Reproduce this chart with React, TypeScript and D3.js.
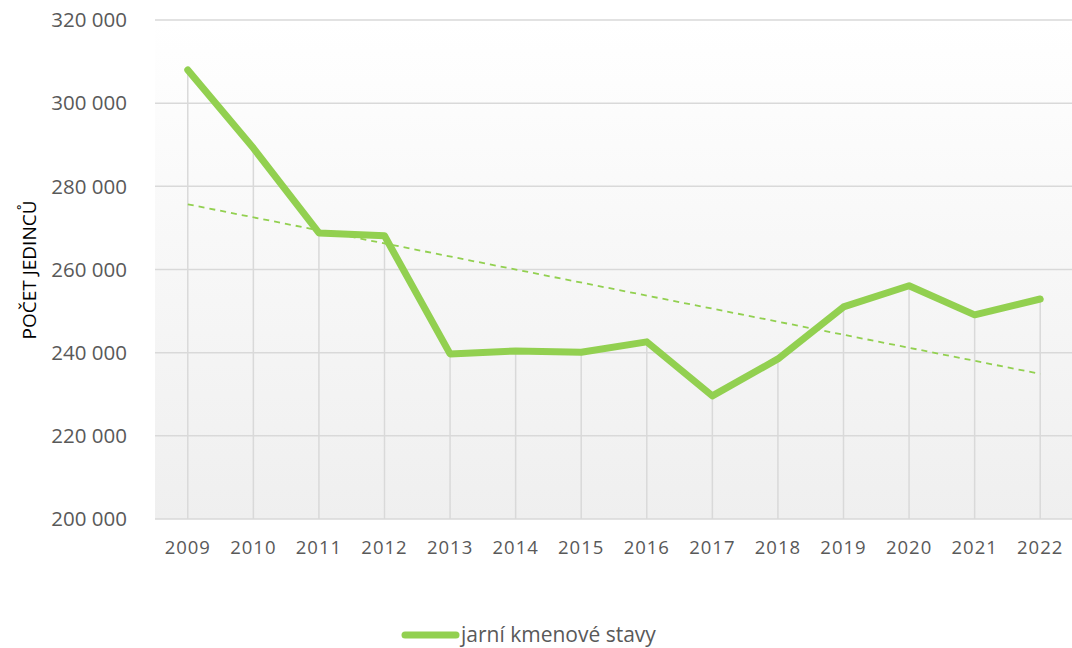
import React from "react";
import * as d3 from "d3";

const years = ["2009","2010","2011","2012","2013","2014","2015","2016","2017","2018","2019","2020","2021","2022"];
const values = [308000, 289200, 268800, 268100, 239700, 240400, 240100, 242600, 229600, 238500, 251000, 256100, 249100, 252900];
const yTicks = [200000, 220000, 240000, 260000, 280000, 300000, 320000];
const seriesName = "jarní kmenové stavy";
const yTitle = "POČET JEDINCŮ";

const W = 1072, H = 648;
const L = 155, R = 1073, T = 20, B = 519;
const GREEN = "#92d050";
const TEXT = "#595959";
const FONT = "'Open Sans', sans-serif";

export default function App() {
  const x = d3.scalePoint<string>().domain(years).range([L, R]).padding(0.5);
  const y = d3.scaleLinear().domain([200000, 320000]).range([B, T]);
  const loc = d3.formatLocale({ thousands: " ", grouping: [3], decimal: ",", currency: ["", ""] });
  const fmt = loc.format(",");

  const line = d3.line<number>().x((_, i) => x(years[i])!).y((d) => y(d));

  // linear trend (least squares)
  const n = values.length;
  const mx = d3.mean(values.map((_, i) => i))!;
  const my = d3.mean(values)!;
  const sxy = d3.sum(values.map((v, i) => (i - mx) * (v - my)));
  const sxx = d3.sum(values.map((_, i) => (i - mx) * (i - mx)));
  const slope = sxy / sxx;
  const trend = [0, n - 1].map((i) => ({ i, v: my + slope * (i - mx) }));

  return (
    <svg width={W} height={H} style={{ position: "absolute", left: 0, top: 0, background: "#fff" }}>
      <defs>
        <linearGradient id="bg" x1="0" y1="0" x2="0" y2="1">
          <stop offset="0" stopColor="#ffffff" />
          <stop offset="1" stopColor="#efefef" />
        </linearGradient>
      </defs>
      <rect x={L} y={T} width={1072 - L} height={B - T} fill="url(#bg)" />
      {yTicks.map((t) => (
        <g key={t}>
          <line x1={L} x2={1072} y1={y(t)} y2={y(t)} stroke="#d9d9d9" strokeWidth={1.5} />
          <text x={127} y={y(t)} dy="0.35em" textAnchor="end" fill={TEXT} fontFamily={FONT} fontSize={20.5}>
            {fmt(t)}
          </text>
        </g>
      ))}
      {values.map((v, i) => (
        <line key={i} x1={x(years[i])} x2={x(years[i])} y1={y(v)} y2={B} stroke="#d9d9d9" strokeWidth={1.5} />
      ))}
      {years.map((yr) => (
        <text key={yr} x={x(yr)} y={554} textAnchor="middle" fill={TEXT} fontFamily={FONT} fontSize={18.5} letterSpacing={1}>
          {yr}
        </text>
      ))}
      <path d={line(values)!} fill="none" stroke={GREEN} strokeWidth={7} strokeLinejoin="round" strokeLinecap="round" />
      <line
        x1={x(years[trend[0].i])}
        y1={y(trend[0].v)}
        x2={x(years[trend[1].i])}
        y2={y(trend[1].v)}
        stroke={GREEN}
        strokeWidth={1.8}
        strokeDasharray="6,5"
      />
      <text
        transform={`translate(29,270) rotate(-90)`}
        textAnchor="middle"
        dy="0.35em"
        fill="#000"
        fontFamily={FONT}
        fontSize={19}
      >
        {yTitle}
      </text>
      <line x1={405} x2={456} y1={635} y2={635} stroke={GREEN} strokeWidth={7} strokeLinecap="round" />
      <text x={461} y={635} dy="0.35em" fill={TEXT} fontFamily={FONT} fontSize={21}>
        {seriesName}
      </text>
    </svg>
  );
}
